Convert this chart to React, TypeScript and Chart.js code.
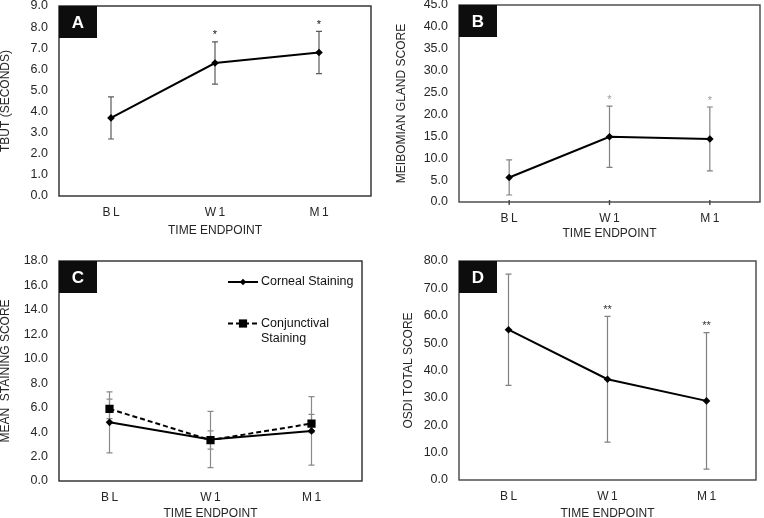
import React, { useEffect, useRef } from "react";
import { Chart, registerables } from "chart.js";

Chart.register(...registerables);

const FONT = "'Liberation Sans', Arial, sans-serif";
const TEXT = "#262626";

// ---- data ----
const categories = ["BL", "W1", "M1"];

const tbutMean = [3.7, 6.3, 6.8];
const tbutErr = [1.0, 1.0, 1.0];
const tbutStars = ["", "*", "*"];

const meibomianMean = [5.6, 14.9, 14.4];
const meibomianErr = [4.0, 7.0, 7.3];
const meibomianStars = ["", "*", "*"];

const cornealMean = [4.8, 3.4, 4.1];
const cornealErr = [2.5, 2.3, 2.8];
const conjunctivalMean = [5.9, 3.35, 4.7];
const conjunctivalErr = [0.8, 0.75, 0.75];

const osdiMean = [54.9, 36.8, 28.9];
const osdiErr = [20.3, 23.0, 24.9];
const osdiStars = ["", "**", "**"];

type Series = {
  label: string;
  mean: number[];
  err: number[];
  dashed?: boolean;
  point: string;
  radius: number;
};

type PanelCfg = {
  letter: string;
  x: number;
  y: number;
  w: number;
  h: number;
  area: { left: number; top: number; right: number; bottom: number };
  yMax: number;
  yStep: number;
  yTitle: string;
  yTitlePad: number;
  xTitlePad: number;
  series: Series[];
  stars?: string[];
  starColor?: string;
  errColor: string;
  frameColor: string;
  xTickMarks?: boolean;
  legend?: boolean;
};

const panels: PanelCfg[] = [
  {
    letter: "A",
    x: 0, y: 0, w: 382, h: 240,
    area: { left: 59, top: 6, right: 371, bottom: 196 },
    yMax: 9, yStep: 1,
    yTitle: "TBUT (SECONDS)", yTitlePad: 0, xTitlePad: 3.5,
    series: [{ label: "TBUT", mean: tbutMean, err: tbutErr, point: "rectRot", radius: 3.8 }],
    stars: tbutStars, starColor: "#111", errColor: "#5a5a5a", frameColor: "#2a2a2a",
  },
  {
    letter: "B",
    x: 382, y: 0, w: 382, h: 240,
    area: { left: 77, top: 5, right: 381, bottom: 202 },
    yMax: 45, yStep: 5,
    yTitle: "MEIBOMIAN GLAND SCORE", yTitlePad: 13.5, xTitlePad: 0,
    series: [{ label: "Meibomian", mean: meibomianMean, err: meibomianErr, point: "rectRot", radius: 3.8 }],
    stars: meibomianStars, starColor: "#9a9a9a", errColor: "#808080", frameColor: "#444",
    xTickMarks: true,
  },
  {
    letter: "C",
    x: 0, y: 240, w: 382, h: 278,
    area: { left: 59, top: 21, right: 362, bottom: 241 },
    yMax: 18, yStep: 2,
    yTitle: "MEAN  STAINING SCORE", yTitlePad: 0, xTitlePad: -1.5,
    series: [
      { label: "Corneal Staining", mean: cornealMean, err: cornealErr, point: "rectRot", radius: 3.8 },
      { label: "Conjunctival|Staining", mean: conjunctivalMean, err: conjunctivalErr, dashed: true, point: "rect", radius: 5.8 },
    ],
    errColor: "#8a8a8a", frameColor: "#2a2a2a", legend: true,
  },
  {
    letter: "D",
    x: 382, y: 240, w: 382, h: 278,
    area: { left: 77, top: 21, right: 374, bottom: 240 },
    yMax: 80, yStep: 10,
    yTitle: "OSDI TOTAL SCORE", yTitlePad: 21, xTitlePad: -1.5,
    series: [{ label: "OSDI", mean: osdiMean, err: osdiErr, point: "rectRot", radius: 3.8 }],
    stars: osdiStars, starColor: "#333", errColor: "#808080", frameColor: "#444",
  },
];

function drawMarker(ctx: CanvasRenderingContext2D, style: string, x: number, y: number, r: number) {
  ctx.beginPath();
  if (style === "rect") {
    const s = r * Math.SQRT1_2;
    ctx.rect(x - s, y - s, 2 * s, 2 * s);
  } else {
    ctx.moveTo(x - r, y);
    ctx.lineTo(x, y - r);
    ctx.lineTo(x + r, y);
    ctx.lineTo(x, y + r);
    ctx.closePath();
  }
  ctx.fillStyle = "#000";
  ctx.fill();
}

function makePlugin(p: PanelCfg) {
  return {
    id: "panelDecor" + p.letter,
    beforeDatasetsDraw(chart: any) {
      const ctx: CanvasRenderingContext2D = chart.ctx;
      const ys = chart.scales.y;
      ctx.save();
      ctx.strokeStyle = p.errColor;
      ctx.lineWidth = 1.2;
      p.series.forEach((s, i) => {
        const meta = chart.getDatasetMeta(i);
        s.mean.forEach((m, j) => {
          const x = meta.data[j].x;
          const yt = ys.getPixelForValue(m + s.err[j]);
          const yb = ys.getPixelForValue(m - s.err[j]);
          ctx.beginPath();
          ctx.moveTo(x, yt);
          ctx.lineTo(x, yb);
          ctx.moveTo(x - 3, yt);
          ctx.lineTo(x + 3, yt);
          ctx.moveTo(x - 3, yb);
          ctx.lineTo(x + 3, yb);
          ctx.stroke();
        });
      });
      ctx.restore();
    },
    afterDraw(chart: any) {
      const ctx: CanvasRenderingContext2D = chart.ctx;
      const a = chart.chartArea;
      const ys = chart.scales.y;
      const xs = chart.scales.x;
      ctx.save();
      // frame
      ctx.strokeStyle = p.frameColor;
      ctx.lineWidth = 1.4;
      ctx.strokeRect(a.left, a.top, a.right - a.left, a.bottom - a.top);
      // x tick marks
      if (p.xTickMarks) {
        const meta = chart.getDatasetMeta(0);
        ctx.beginPath();
        meta.data.forEach((pt: any) => {
          ctx.moveTo(pt.x, a.bottom - 2);
          ctx.lineTo(pt.x, a.bottom + 3);
        });
        ctx.stroke();
      }
      // x category labels (letter-spaced)
      ctx.fillStyle = TEXT;
      ctx.font = `12px ${FONT}`;
      ctx.textAlign = "center";
      ctx.textBaseline = "middle";
      const sp = 2.5;
      (ctx as any).letterSpacing = sp + "px";
      categories.forEach((c, i) => {
        ctx.fillText(c, xs.getPixelForValue(i) + sp / 2, a.bottom + 16.5);
      });
      (ctx as any).letterSpacing = "0px";
      // panel letter box
      ctx.fillStyle = "#0d0d0d";
      ctx.fillRect(a.left, a.top, 38, 32);
      ctx.fillStyle = "#fff";
      ctx.font = `bold 17px ${FONT}`;
      ctx.textAlign = "center";
      ctx.textBaseline = "middle";
      ctx.fillText(p.letter, a.left + 19, a.top + 17);
      // stars
      if (p.stars) {
        const s = p.series[0];
        const meta = chart.getDatasetMeta(0);
        ctx.fillStyle = p.starColor || "#000";
        ctx.font = `11px ${FONT}`;
        p.stars.forEach((st, j) => {
          if (!st) return;
          const yt = ys.getPixelForValue(s.mean[j] + s.err[j]);
          ctx.fillText(st, meta.data[j].x, yt - 6.5);
        });
      }
      // legend
      if (p.legend) {
        const x0 = a.right - 134;
        const x1 = a.right - 104;
        const tx = a.right - 101;
        const ys0 = [a.top + 21, a.top + 62.5];
        ctx.font = `12.5px ${FONT}`;
        ctx.textAlign = "left";
        ctx.textBaseline = "middle";
        p.series.forEach((s, i) => {
          const yy = ys0[i];
          ctx.strokeStyle = "#000";
          ctx.lineWidth = 2;
          ctx.setLineDash(s.dashed ? [5, 3] : []);
          ctx.beginPath();
          ctx.moveTo(x0, yy);
          ctx.lineTo(x1, yy);
          ctx.stroke();
          ctx.setLineDash([]);
          drawMarker(ctx, s.point, (x0 + x1) / 2, yy, s.point === "rect" ? 5.8 : 3.3);
          ctx.fillStyle = "#111";
          s.label.split("|").forEach((line, k) => {
            ctx.fillText(line, tx, yy + k * 15);
          });
        });
      }
      ctx.restore();
    },
  };
}

function buildConfig(p: PanelCfg): any {
  return {
    type: "line",
    data: {
      labels: categories,
      datasets: p.series.map((s) => ({
        label: s.label.replace("|", " "),
        data: s.mean,
        borderColor: "#000",
        backgroundColor: "#000",
        borderWidth: 2,
        borderDash: s.dashed ? [5, 3] : [],
        pointStyle: s.point,
        pointRadius: s.radius,
        pointBackgroundColor: "#000",
        pointBorderColor: "#000",
        pointBorderWidth: 0,
        tension: 0,
      })),
    },
    options: {
      responsive: false,
      animation: false,
      events: [],
      layout: {
        padding: { left: 0, top: p.area.top, right: p.w - p.area.right, bottom: 0 },
      },
      plugins: { legend: { display: false }, tooltip: { enabled: false } },
      scales: {
        x: {
          type: "category",
          offset: true,
          grid: { display: false, drawTicks: false },
          border: { display: false },
          ticks: { display: false },
          title: {
            display: true,
            text: "TIME ENDPOINT",
            color: TEXT,
            font: { family: FONT, size: 12, lineHeight: 1 },
            padding: { top: 0, bottom: p.xTitlePad },
          },
          afterFit: (s: any) => {
            s.height = p.h - p.area.bottom;
            s.paddingLeft = 0;
            s.paddingRight = 0;
          },
        },
        y: {
          min: 0,
          max: p.yMax,
          grid: { display: false, drawTicks: false },
          border: { display: false },
          ticks: {
            stepSize: p.yStep,
            padding: 11,
            color: TEXT,
            font: { family: FONT, size: 12.5 },
            callback: (v: any) => Number(v).toFixed(1),
          },
          title: {
            display: true,
            text: p.yTitle,
            color: TEXT,
            font: { family: FONT, size: 12, lineHeight: 1 },
            padding: { top: p.yTitlePad, bottom: 0 },
          },
          afterFit: (s: any) => {
            s.width = p.area.left;
            s.paddingTop = 0;
            s.paddingBottom = 0;
          },
        },
      },
    },
    plugins: [makePlugin(p)],
  };
}

function Panel({ p }: { p: PanelCfg }) {
  const ref = useRef<HTMLCanvasElement>(null);
  useEffect(() => {
    const chart = new Chart(ref.current as HTMLCanvasElement, buildConfig(p));
    return () => chart.destroy();
  }, [p]);
  return (
    <canvas
      ref={ref}
      width={p.w}
      height={p.h}
      style={{ position: "absolute", left: p.x, top: p.y, width: p.w, height: p.h }}
    />
  );
}

export default function App() {
  return (
    <div
      style={{
        position: "absolute",
        left: 0,
        top: 0,
        width: 764,
        height: 518,
        background: "#fff",
        overflow: "hidden",
      }}
    >
      {panels.map((p) => (
        <Panel key={p.letter} p={p} />
      ))}
    </div>
  );
}
